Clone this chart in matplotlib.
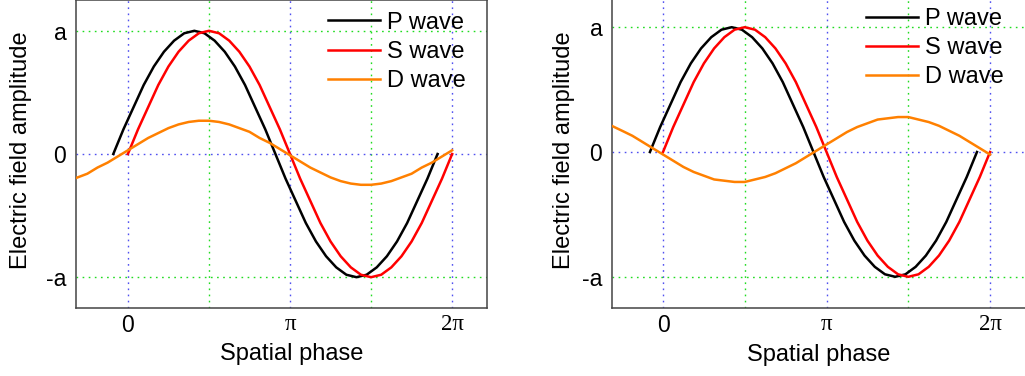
import numpy as np
import matplotlib
matplotlib.use("Agg")
import matplotlib.pyplot as plt

# phase samples in units of pi, shared by the P and S curves
PHASE = [0, 0.0625, 0.125, 0.1875, 0.25, 0.3125, 0.375, 0.4375, 0.5,
         0.5625, 0.625, 0.6875, 0.75, 0.8125, 0.875, 0.9375, 1.0,
         1.0625, 1.125, 1.1875, 1.25, 1.3125, 1.375, 1.4375, 1.5,
         1.5625, 1.625, 1.6875, 1.75, 1.8125, 1.875, 1.9375, 2.0]
# one full oscillation, in units of a
WAVE = [0, 0.20, 0.38, 0.56, 0.71, 0.83, 0.92, 0.98, 1.0,
        0.98, 0.92, 0.83, 0.71, 0.56, 0.38, 0.20, 0,
        -0.20, -0.38, -0.56, -0.71, -0.83, -0.92, -0.98, -1.0,
        -0.98, -0.92, -0.83, -0.71, -0.56, -0.38, -0.20, 0]
P_SHIFT = [-0.09, -0.08]   # P wave leads S wave (left, right panel)

D_PHASE = [-0.33, -0.25, -0.1875, -0.125, -0.0625] + PHASE
D_LEFT = [-0.20, -0.16, -0.11, -0.07, -0.02,
          0.03, 0.08, 0.13, 0.17, 0.21, 0.24, 0.26, 0.27, 0.27,
          0.26, 0.24, 0.21, 0.18, 0.13, 0.09, 0.04, -0.01,
          -0.06, -0.11, -0.15, -0.19, -0.22, -0.24, -0.25, -0.25,
          -0.24, -0.22, -0.19, -0.16, -0.11, -0.07, -0.02, 0.03]
D_RIGHT = [0.22, 0.17, 0.13, 0.08, 0.03,
           -0.02, -0.07, -0.12, -0.16, -0.19, -0.22, -0.23, -0.24, -0.24,
           -0.22, -0.20, -0.17, -0.13, -0.09, -0.04, 0.01, 0.06,
           0.11, 0.16, 0.20, 0.23, 0.26, 0.27, 0.28, 0.28,
           0.26, 0.24, 0.21, 0.17, 0.13, 0.08, 0.03, -0.02]

X_TICKS = [0, 1, 2]
X_LABELS = ["0", "\u03c0", "2\u03c0"]
Y_TICKS = [-1, 0, 1]
Y_LABELS = ["-a", "0", "a"]
BLUE_X = [0, 1, 2]
GREEN_X = [0.5, 1.5]
BLUE_Y = [0]
GREEN_Y = [-1, 1]

plt.rcParams["font.family"] = ["Liberation Sans", "DejaVu Sans"]

BLUE = "#5050f0"
GREEN = "#20dc20"
DOTS = (0, (1.2, 3.2))

fig = plt.figure(figsize=(10.25, 3.76), dpi=100)
ax_l = fig.add_axes([76 / 1025, 1 - 308 / 376, 411 / 1025, 308 / 376])
ax_r = fig.add_axes([612 / 1025, 1 - 308 / 376, 415 / 1025, 312 / 376])

panels = [
    (ax_l, P_SHIFT[0], D_LEFT, (-0.32, 2.215), (0.526, -0.115), (-0.107, 0.513)),
    (ax_r, P_SHIFT[1], D_RIGHT, (-0.312, 2.226), (0.499, -0.114), (-0.089, 0.506)),
]

for ax, shift, d_vals, xlim, xlab_pos, ylab_pos in panels:
    for gx in BLUE_X:
        ax.axvline(gx * np.pi, color=BLUE, lw=1.0, ls=DOTS, zorder=1)
    for gx in GREEN_X:
        ax.axvline(gx * np.pi, color=GREEN, lw=1.0, ls=DOTS, zorder=1)
    for gy in BLUE_Y:
        ax.axhline(gy, color=BLUE, lw=1.0, ls=DOTS, zorder=1)
    for gy in GREEN_Y:
        ax.axhline(gy, color=GREEN, lw=1.0, ls=DOTS, zorder=1)

    phase = np.array(PHASE)
    ax.plot((phase + shift) * np.pi, WAVE, color="black", lw=1.8, label="P wave", zorder=3)
    ax.plot(phase * np.pi, WAVE, color="#ff0000", lw=1.8, label="S wave", zorder=3)
    ax.plot(np.array(D_PHASE) * np.pi, d_vals, color="#ff8000", lw=1.8, label="D wave", zorder=3)

    ax.set_xlim(xlim[0] * np.pi, xlim[1] * np.pi)
    ax.set_ylim(-1.25, 1.25)

    ax.set_xticks(np.array(X_TICKS) * np.pi)
    ax.set_xticklabels(X_LABELS)
    for lbl in ax.get_xticklabels()[1:]:
        lbl.set_fontfamily(["Liberation Serif", "DejaVu Serif"])
    ax.set_yticks(Y_TICKS)
    ax.set_yticklabels(Y_LABELS)
    ax.tick_params(axis="both", length=0, labelsize=16.5)
    ax.tick_params(axis="x", pad=4)
    ax.tick_params(axis="y", pad=7)

    for sp in ax.spines.values():
        sp.set_color("#444444")
        sp.set_linewidth(1.1)

    ax.set_xlabel("Spatial phase", fontsize=17)
    ax.xaxis.set_label_coords(*xlab_pos)
    ax.set_ylabel("Electric field amplitude", fontsize=17)
    ax.yaxis.set_label_coords(*ylab_pos)

    ax.legend(loc="upper left", bbox_to_anchor=(0.613, 0.962), frameon=False,
              fontsize=17, borderpad=0, borderaxespad=0, handlelength=2.2,
              handletextpad=0.3, labelspacing=0.31)

fig.savefig("out.png", dpi=100)
